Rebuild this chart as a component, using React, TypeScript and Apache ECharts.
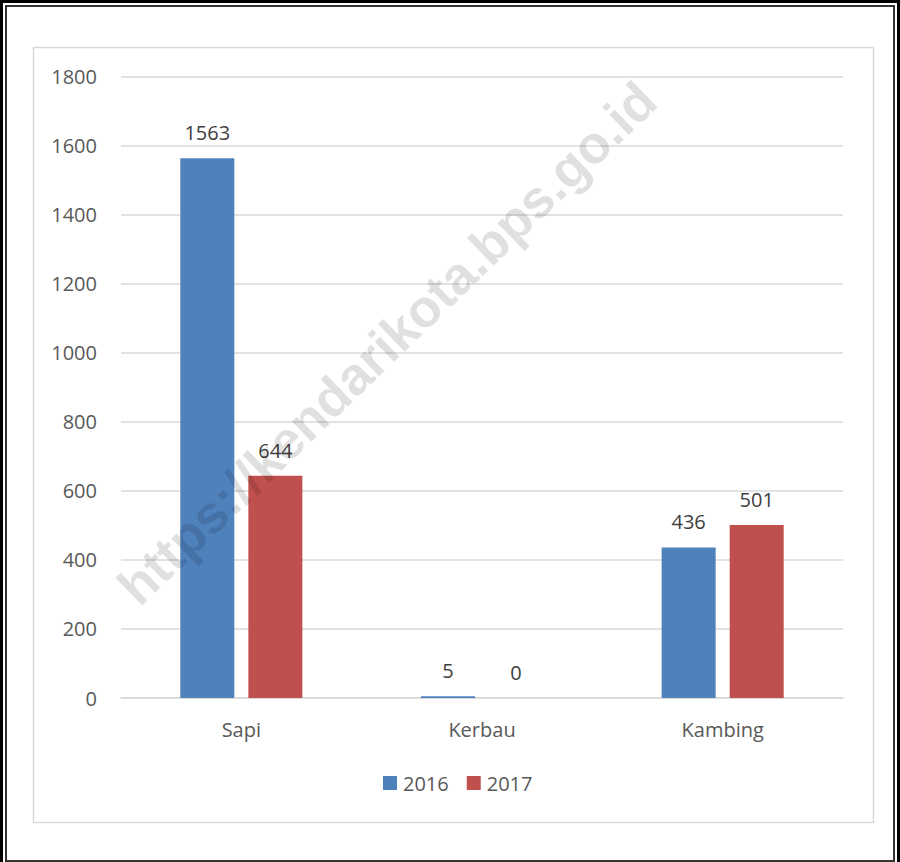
import React, { useEffect, useRef } from "react";
import * as echarts from "echarts";

const categories = ["Sapi", "Kerbau", "Kambing"];
const values2016 = [1563, 5, 436];
const values2017 = [644, 0, 501];
const seriesNames = ["2016", "2017"];
const watermarkText = "https://kendarikota.bps.go.id";

export default function App() {
  const ref = useRef<HTMLDivElement>(null);
  useEffect(() => {
    if (!ref.current) return;
    const chart = echarts.init(ref.current, null, { renderer: "svg" });
    const font = "'Open Sans', Lato, sans-serif";
    const labelStyle = {
      show: true,
      position: "top" as const,
      distance: 15.5,
      color: "#404040",
      fontSize: 20,
      fontFamily: font,
    };
    chart.setOption({
      animation: false,
      backgroundColor: "#ffffff",
      grid: { left: 121, right: 57, top: 76.5, bottom: 164, containLabel: false },
      legend: {
        left: 378,
        top: 768,
        itemWidth: 14,
        itemHeight: 14,
        itemGap: 18,
        icon: "rect",
        textStyle: { color: "#595959", fontSize: 20, fontFamily: font, padding: [0, 0, 0, 1] },
        data: seriesNames,
      },
      xAxis: {
        type: "category",
        data: categories,
        axisLine: { lineStyle: { color: "#d9d9d9", width: 1.5 } },
        axisTick: { show: false },
        axisLabel: { color: "#595959", fontSize: 20, fontFamily: font, margin: 21.5 },
      },
      yAxis: {
        type: "value",
        min: 0,
        max: 1800,
        interval: 200,
        axisLine: { show: false },
        axisTick: { show: false },
        splitLine: { lineStyle: { color: "#d9d9d9", width: 1.5 } },
        axisLabel: {
          color: "#595959",
          fontSize: 20,
          fontFamily: font,
          margin: 24,
          formatter: (v: number) => String(v),
        },
      },
      series: [
        {
          name: seriesNames[0],
          type: "bar",
          data: values2016,
          barWidth: 54,
          barGap: "26%",
          itemStyle: { color: "#4F81BD" },
          label: labelStyle,
        },
        {
          name: seriesNames[1],
          type: "bar",
          data: values2017,
          barWidth: 54,
          barGap: "26%",
          itemStyle: { color: "#C0504D" },
          label: labelStyle,
        },
      ],
      graphic: [
        {
          type: "rect",
          z: 1,
          shape: { x: 1.5, y: 1.5, width: 897, height: 900 },
          style: { fill: "none", stroke: "#000000", lineWidth: 3 },
          silent: true,
        },
        {
          type: "rect",
          z: 1,
          shape: { x: 6, y: 6, width: 888, height: 855 },
          style: { fill: "none", stroke: "#333333", lineWidth: 2 },
          silent: true,
        },
        {
          type: "rect",
          z: 1,
          shape: { x: 33.5, y: 47.5, width: 840, height: 775 },
          style: { fill: "none", stroke: "#d9d9d9", lineWidth: 1.5 },
          silent: true,
        },
        {
          type: "text",
          z: 100,
          x: 387,
          y: 343,
          rotation: (44 * Math.PI) / 180,
          silent: true,
          style: {
            text: watermarkText,
            fontSize: 53,
            fontWeight: "bold",
            fontFamily: "'Liberation Sans', Arial, sans-serif",
            fill: "rgba(0,0,0,0.12)",
            align: "center",
            verticalAlign: "middle",
          },
        },
      ],
    });
    return () => chart.dispose();
  }, []);
  return (
    <div
      ref={ref}
      style={{ position: "absolute", left: 0, top: 0, width: 900, height: 862 }}
    />
  );
}
